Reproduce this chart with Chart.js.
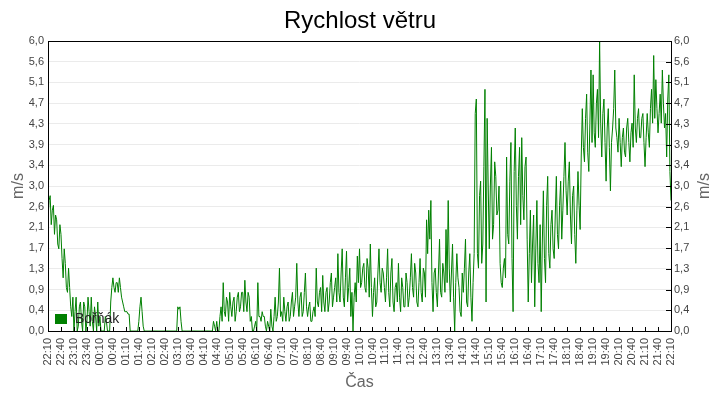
<!DOCTYPE html>
<html>
<head>
<meta charset="utf-8">
<script src="https://cdn.jsdelivr.net/npm/chart.js@4/dist/chart.umd.min.js"></script>
<style>
  html, body { margin: 0; padding: 0; background: #fff; }
  #wrap { width: 720px; height: 400px; }
</style>
</head>
<body>
<div id="wrap"><canvas id="vitr" width="720" height="400"></canvas></div>
<script>
// ── data ──────────────────────────────────────
// rychlost větru [m/s], měření každých 5 minut od 22:10 do 22:10
const krok = 5;
const rychlost = [
    2.3, 2.8, 2.5, 2.0, 2.3, 1.7, 2.0, 1.1, 1.4, 0.8, 0.9, 0.3,   // 22:10
    0.0, 0.7, 0.1, 0.6, 0.0, 0.5, 0.2, 0.4, 0.7, 0.0, 0.3, 0.6,   // 23:10
    0.3, 0.0, 0.0, 0.2, 0.0, 0.6, 1.1, 0.8, 1.0, 1.1, 0.7, 0.5,   // 00:10
    0.4, 0.35, 0.0, 0.0, 0.0, 0.0, 0.2, 0.7, 0.1, 0.0, 0.0, 0.0,  // 01:10
    0.0, 0.0, 0.0, 0.0, 0.0, 0.0, 0.0, 0.0, 0.0, 0.0, 0.0, 0.0,   // 02:10
    0.5, 0.5, 0.0, 0.0, 0.0, 0.0, 0.0, 0.0, 0.0, 0.0, 0.0, 0.0,   // 03:10
    0.0, 0.0, 0.0, 0.0, 0.0, 0.1, 0.2, 0.0, 0.5, 1.0, 0.3, 0.6,   // 04:10
    0.8, 0.3, 0.7, 0.4, 0.8, 0.5, 0.8, 1.05, 0.4, 0.7, 0.3, 0.0,  // 05:10
    0.2, 1.0, 0.3, 0.4, 0.3, 0.0, 0.1, 0.45, 0.0, 0.7, 0.3, 1.3,  // 06:10
    0.4, 0.7, 0.2, 0.6, 0.3, 0.8, 0.5, 1.4, 0.3, 0.8, 0.4, 1.2,   // 07:10
    0.3, 0.6, 0.2, 0.5, 1.3, 0.5, 0.9, 1.15, 0.4, 0.9, 0.6, 1.2,  // 08:10
    0.7, 1.1, 1.6, 0.6, 1.7, 0.5, 1.65, 0.9, 0.3, 0.0, 1.0, 1.55, // 09:10
    1.7, 1.0, 1.4, 0.8, 1.3, 1.8, 0.3, 1.1, 0.6, 1.7, 0.8, 1.2,   // 10:10
    0.6, 1.7, 0.5, 1.5, 0.4, 1.0, 1.4, 0.4, 0.9, 0.5, 1.0, 0.7,   // 11:10
    1.6, 0.7, 1.2, 0.5, 1.5, 0.6, 1.2, 2.3, 2.5, 2.7, 0.4, 1.3,   // 12:10
    0.5, 1.9, 0.7, 1.2, 2.1, 2.7, 0.6, 1.8, 0.0, 1.6, 0.9, 0.3,   // 13:10
    0.8, 1.9, 0.5, 1.6, 0.2, 1.6, 4.8, 1.3, 3.1, 1.8, 5.0, 4.4,   // 14:10
    1.7, 3.8, 2.2, 3.2, 2.5, 1.4, 0.9, 1.5, 3.6, 1.8, 3.9, 0.4,   // 15:10
    4.2, 1.9, 3.8, 4.0, 2.3, 3.6, 0.6, 2.5, 1.8, 0.5, 2.7, 1.0,   // 16:10
    0.4, 2.9, 1.0, 3.2, 1.3, 2.5, 1.5, 3.2, 1.7, 3.1, 2.5, 3.9,   // 17:10
    2.4, 3.5, 1.8, 3.0, 1.4, 3.3, 2.1, 4.6, 3.5, 4.9, 3.3, 5.4,   // 18:10
    5.3, 3.8, 5.0, 6.0, 3.6, 4.8, 3.1, 4.6, 2.9, 4.2, 5.4, 4.0,   // 19:10
    4.4, 3.4, 4.2, 3.6, 4.4, 3.5, 4.3, 5.3, 3.9, 4.6, 4.0, 4.5,   // 20:10
    3.4, 4.5, 3.8, 5.0, 5.7, 5.2, 4.1, 4.9, 5.4, 4.2, 3.6, 5.3,   // 21:10
    2.7                                                           // 22:10
];
// mezilehlá měření (posun o 2,5 minuty za každým měřením výše)
const rychlostMezi = [
    2.7, 2.2, 2.6, 2.4, 1.8, 2.2, 1.5, 1.7, 0.9, 1.3, 0.5, 0.7,   // 22:12
    0.4, 0.0, 0.5, 0.2, 0.6, 0.0, 0.7, 0.1, 0.2, 0.5, 0.0, 0.1,   // 23:12
    0.0, 0.0, 0.3, 0.0, 0.0, 0.9, 0.9, 1.0, 0.8, 0.9, 0.6, 0.4,   // 00:12
    0.4, 0.35, 0.0, 0.0, 0.0, 0.0, 0.5, 0.4, 0.0, 0.0, 0.0, 0.0,  // 01:12
    0.0, 0.0, 0.0, 0.0, 0.0, 0.0, 0.0, 0.0, 0.0, 0.0, 0.0, 0.0,   // 02:12
    0.45, 0.2, 0.0, 0.0, 0.0, 0.0, 0.0, 0.0, 0.0, 0.0, 0.0, 0.0,  // 03:12
    0.0, 0.0, 0.0, 0.0, 0.2, 0.0, 0.0, 0.3, 0.2, 0.4, 0.7, 0.2,   // 04:12
    0.5, 0.6, 0.2, 0.7, 0.4, 0.8, 0.4, 0.6, 0.8, 0.2, 0.0, 0.1,   // 05:12
    0.0, 0.3, 0.2, 0.3, 0.1, 0.2, 0.0, 0.1, 0.3, 0.2, 0.6, 0.3,   // 06:12
    0.2, 0.4, 0.5, 0.2, 0.6, 0.3, 0.7, 0.6, 0.7, 0.3, 0.8, 0.5,   // 07:12
    0.5, 0.2, 0.4, 0.3, 0.6, 0.8, 0.4, 0.6, 0.8, 0.4, 1.0, 0.5,   // 08:12
    0.9, 0.6, 0.8, 1.2, 0.7, 1.1, 0.6, 1.3, 0.8, 0.7, 0.6, 1.0,   // 09:12
    0.9, 1.3, 0.9, 1.5, 0.7, 0.9, 0.8, 0.5, 1.2, 1.0, 1.3, 0.9,   // 10:12
    1.1, 0.8, 1.2, 0.6, 0.9, 0.6, 0.7, 1.1, 0.5, 1.2, 0.5, 1.1,   // 11:12
    0.9, 1.4, 0.6, 1.0, 0.8, 1.3, 0.7, 1.6, 1.9, 1.0, 1.2, 0.8,   // 12:12
    1.2, 0.8, 1.4, 0.8, 1.0, 1.3, 1.2, 0.7, 1.0, 1.1, 0.4, 1.2,   // 13:12
    1.3, 0.6, 1.2, 0.7, 1.0, 4.5, 1.6, 2.8, 1.4, 3.4, 0.6, 3.0,   // 14:12
    3.0, 1.9, 3.5, 2.4, 3.0, 1.0, 1.3, 1.1, 2.0, 3.1, 1.5, 3.3,   // 15:12
    2.6, 3.2, 2.2, 2.8, 3.4, 1.9, 1.6, 1.0, 2.4, 1.7, 1.4, 2.2,   // 16:12
    1.8, 1.5, 2.6, 1.6, 2.2, 1.7, 2.4, 2.0, 2.6, 1.9, 3.2, 2.9,   // 17:12
    3.1, 2.4, 2.8, 2.0, 2.5, 2.6, 3.6, 3.8, 4.4, 3.7, 4.3, 3.9,   // 18:12
    4.1, 4.7, 4.0, 4.3, 4.5, 3.9, 4.2, 3.8, 3.9, 4.6, 4.2, 3.7,   // 19:12
    3.9, 4.0, 3.7, 4.2, 3.9, 4.1, 3.8, 4.2, 4.4, 4.0, 4.4, 3.9,   // 20:12
    4.0, 4.1, 4.6, 4.3, 4.4, 4.6, 4.5, 4.3, 4.7, 4.5, 4.8, 3.3    // 21:12
];

// popisky osy x (po 30 minutách)
const casy = [
    '22:10', '22:40', '23:10', '23:40', '00:10', '00:40', '01:10', '01:40',
    '02:10', '02:40', '03:10', '03:40', '04:10', '04:40', '05:10', '05:40',
    '06:10', '06:40', '07:10', '07:40', '08:10', '08:40', '09:10', '09:40',
    '10:10', '10:40', '11:10', '11:40', '12:10', '12:40', '13:10', '13:40',
    '14:10', '14:40', '15:10', '15:40', '16:10', '16:40', '17:10', '17:40',
    '18:10', '18:40', '19:10', '19:40', '20:10', '20:40', '21:10', '21:40',
    '22:10'
];
const casKrok = 30;

// popisky osy y
const yPopisky = ['0,0', '0,4', '0,9', '1,3', '1,7', '2,1', '2,6', '3,0',
                  '3,4', '3,9', '4,3', '4,7', '5,1', '5,6', '6,0'];
const yMax = 6;

// ── chart ─────────────────────────────────────
const green = '#008000';
const fontFamily = '"Liberation Sans", Arial, sans-serif';
const tickFont = { family: fontFamily, size: 11 };
const titleFont = { family: fontFamily, size: 16 };

// obě řady měření do jedné časové řady
const body = [];
rychlost.forEach((v, i) => {
    body.push({ x: i * krok, y: v });
    if (i < rychlostMezi.length) body.push({ x: i * krok + krok / 2, y: rychlostMezi[i] });
});

function yTicks(scale) {
    scale.ticks = yPopisky.map((_, i) => ({ value: i * yMax / (yPopisky.length - 1) }));
}

// rámeček grafu, ticky dovnitř, pravý popisek osy a legenda uvnitř plochy
const frame = {
    id: 'frame',
    afterDatasetsDraw(chart) {
        const { ctx, chartArea: a, scales } = chart;
        ctx.save();
        ctx.strokeStyle = '#000';
        ctx.lineWidth = 1;
        ctx.beginPath();
        scales.x.ticks.forEach(t => {
            const px = Math.round(scales.x.getPixelForValue(t.value)) + 0.5;
            ctx.moveTo(px, a.bottom); ctx.lineTo(px, a.bottom - 4);
        });
        scales.y2.ticks.forEach(t => {
            const py = Math.round(scales.y2.getPixelForValue(t.value)) + 0.5;
            ctx.moveTo(a.right, py); ctx.lineTo(a.right - 5, py);
        });
        ctx.stroke();
        ctx.strokeRect(Math.round(a.left) + 0.5, Math.round(a.top) + 0.5,
                       Math.round(a.right - a.left), Math.round(a.bottom - a.top));

        const ds = chart.data.datasets[0];
        ctx.fillStyle = ds.borderColor;
        ctx.fillRect(a.left + 7, a.bottom - 17, 12, 10);
        ctx.fillStyle = '#222';
        ctx.font = '14px ' + fontFamily;
        ctx.textBaseline = 'middle';
        ctx.fillText(ds.label, a.left + 27, a.bottom - 12);

        // popisek pravé osy čtený zdola nahoru jako vlevo
        ctx.translate(scales.y2.right - 15, (a.top + a.bottom) / 2);
        ctx.rotate(-Math.PI / 2);
        ctx.fillStyle = '#666';
        ctx.font = '16px ' + fontFamily;
        ctx.textAlign = 'center';
        ctx.fillText(scales.y.options.title.text, 0, 0);
        ctx.restore();
    }
};

new Chart(document.getElementById('vitr'), {
    type: 'line',
    data: {
        datasets: [{
            label: 'Bořňák',
            data: body,
            borderColor: green,
            backgroundColor: green,
            borderWidth: 1,
            pointRadius: 0,
            tension: 0,
            fill: false
        }]
    },
    options: {
        responsive: false,
        animation: false,
        devicePixelRatio: 1,
        layout: { padding: 0 },
        plugins: {
            legend: { display: false },
            tooltip: { enabled: false },
            title: {
                display: true,
                text: 'Rychlost větru',
                color: '#000',
                font: { family: fontFamily, size: 24, weight: 'normal' },
                padding: { top: 7, bottom: 5.2 }
            }
        },
        scales: {
            x: {
                type: 'linear',
                min: 0,
                max: (casy.length - 1) * casKrok,
                afterBuildTicks: s => { s.ticks = casy.map((_, i) => ({ value: i * casKrok })); },
                afterFit: s => { s.height = 69; },
                ticks: {
                    autoSkip: false,
                    minRotation: 90,
                    maxRotation: 90,
                    padding: 7,
                    color: '#444',
                    font: tickFont,
                    callback: (v, i) => casy[i]
                },
                grid: { display: false, drawTicks: false },
                border: { display: false },
                title: { display: true, text: 'Čas', color: '#666', font: titleFont, padding: { top: 0, bottom: 8 } }
            },
            y: {
                position: 'left',
                min: 0,
                max: yMax,
                afterBuildTicks: yTicks,
                afterFit: s => { s.width = 48; },
                ticks: { padding: 4, color: '#444', font: tickFont, callback: (v, i) => yPopisky[i] },
                grid: { color: '#ebebeb', drawTicks: false },
                border: { display: false },
                title: { display: true, text: 'm/s', color: '#666', font: titleFont, padding: { top: 9, bottom: 0 } }
            },
            y2: {
                position: 'right',
                min: 0,
                max: yMax,
                afterBuildTicks: yTicks,
                afterFit: s => { s.width = 49; },
                ticks: { padding: 3, color: '#444', font: tickFont, callback: (v, i) => yPopisky[i] },
                grid: { display: false, drawTicks: false },
                border: { display: false },
                title: { display: false }
            }
        }
    },
    plugins: [frame]
});
</script>
</body>
</html>
